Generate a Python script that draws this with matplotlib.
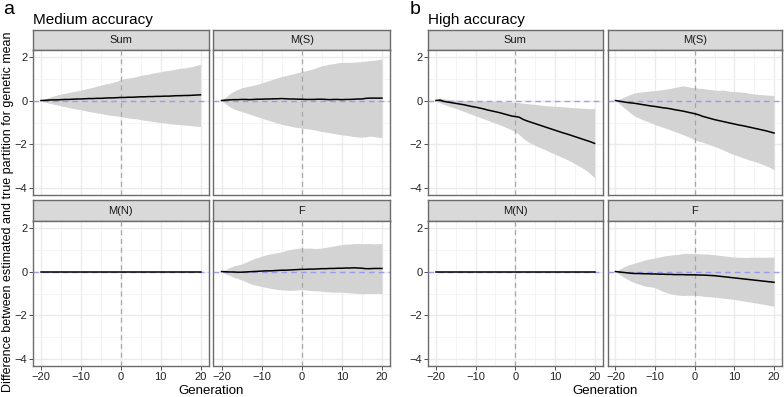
import matplotlib
matplotlib.use("Agg")
import matplotlib.pyplot as plt
import numpy as np

generation = list(range(-20, 21))
facets = ["Sum", "M(S)", "M(N)", "F"]

# ---- Medium accuracy ----
med_sum_upper = [0.0, 0.08, 0.14, 0.2, 0.25, 0.3, 0.33, 0.37, 0.4, 0.44, 0.47, 0.52, 0.56, 0.6, 0.66, 0.7, 0.75, 0.78, 0.83, 0.88, 0.95,
                 1.0, 1.03, 1.05, 1.1, 1.14, 1.18, 1.2, 1.25, 1.28, 1.31, 1.35, 1.37, 1.4, 1.44, 1.47, 1.48, 1.52, 1.55, 1.6, 1.65]
med_sum_lower = [0.0, -0.06, -0.12, -0.16, -0.2, -0.25, -0.28, -0.32, -0.36, -0.39, -0.42, -0.46, -0.5, -0.53, -0.56, -0.59, -0.63, -0.66, -0.68, -0.7, -0.73,
                 -0.77, -0.8, -0.82, -0.83, -0.87, -0.9, -0.92, -0.95, -0.98, -1.0, -1.02, -1.05, -1.07, -1.08, -1.1, -1.12, -1.13, -1.15, -1.17, -1.18]
med_sum_mean = [0.0, 0.01, 0.02, 0.03, 0.03, 0.04, 0.05, 0.05, 0.06, 0.07, 0.07, 0.08, 0.09, 0.09, 0.1, 0.1, 0.11, 0.12, 0.12, 0.13, 0.14,
                0.14, 0.15, 0.15, 0.16, 0.17, 0.17, 0.18, 0.18, 0.19, 0.19, 0.2, 0.2, 0.21, 0.22, 0.22, 0.23, 0.23, 0.24, 0.25, 0.26]

med_ms_upper = [0.0, 0.15, 0.3, 0.42, 0.5, 0.58, 0.62, 0.66, 0.7, 0.74, 0.8, 0.86, 0.92, 0.98, 1.04, 1.09, 1.13, 1.18, 1.22, 1.27, 1.32,
                1.35, 1.4, 1.45, 1.52, 1.58, 1.62, 1.66, 1.68, 1.72, 1.73, 1.74, 1.74, 1.75, 1.76, 1.77, 1.8, 1.82, 1.83, 1.86, 1.89]
med_ms_lower = [0.0, -0.15, -0.28, -0.38, -0.45, -0.5, -0.56, -0.62, -0.68, -0.74, -0.8, -0.86, -0.92, -0.97, -1.03, -1.08, -1.12, -1.16, -1.2, -1.23, -1.26,
                -1.28, -1.3, -1.33, -1.37, -1.41, -1.44, -1.47, -1.5, -1.53, -1.56, -1.58, -1.61, -1.64, -1.66, -1.67, -1.65, -1.62, -1.64, -1.67, -1.68]
med_ms_mean = [0.0, 0.02, 0.03, 0.04, 0.04, 0.05, 0.05, 0.04, 0.05, 0.06, 0.06, 0.07, 0.07, 0.08, 0.08, 0.09, 0.08, 0.07, 0.07, 0.06, 0.06,
               0.05, 0.05, 0.05, 0.06, 0.06, 0.05, 0.04, 0.05, 0.05, 0.04, 0.05, 0.05, 0.06, 0.07, 0.07, 0.1, 0.11, 0.11, 0.11, 0.11]

med_mn_upper = [0.0] * 41
med_mn_lower = [0.0] * 41
med_mn_mean = [0.0] * 41

med_f_upper = [0.0, 0.08, 0.18, 0.25, 0.3, 0.34, 0.42, 0.5, 0.58, 0.64, 0.7, 0.75, 0.8, 0.83, 0.86, 0.9, 0.95, 1.0, 1.03, 1.06, 1.07,
               1.06, 1.07, 1.05, 1.05, 1.07, 1.1, 1.13, 1.16, 1.2, 1.22, 1.25, 1.25, 1.27, 1.28, 1.27, 1.27, 1.28, 1.26, 1.27, 1.28]
med_f_lower = [0.0, -0.1, -0.18, -0.26, -0.32, -0.38, -0.46, -0.54, -0.6, -0.64, -0.68, -0.72, -0.76, -0.79, -0.82, -0.83, -0.85, -0.86, -0.85, -0.84, -0.82,
               -0.84, -0.86, -0.88, -0.88, -0.9, -0.92, -0.93, -0.94, -0.94, -0.94, -0.96, -0.97, -0.98, -1.0, -1.01, -1.0, -1.0, -1.0, -0.99, -1.0]
med_f_mean = [0.0, -0.01, -0.02, -0.02, -0.03, -0.03, -0.02, -0.01, 0.0, 0.01, 0.02, 0.03, 0.03, 0.04, 0.05, 0.06, 0.06, 0.07, 0.08, 0.09, 0.1,
              0.1, 0.11, 0.11, 0.12, 0.13, 0.13, 0.14, 0.14, 0.15, 0.15, 0.16, 0.16, 0.17, 0.16, 0.15, 0.13, 0.13, 0.14, 0.14, 0.14]

# ---- High accuracy ----
high_sum_upper = [0.0, 0.12, 0.08, 0.05, 0.03, 0.02, 0.01, 0.0, 0.0, 0.0, 0.0, -0.01, -0.01, -0.02, -0.02, -0.03, -0.04, -0.05, -0.06, -0.07, -0.08,
                  -0.1, -0.12, -0.14, -0.16, -0.18, -0.2, -0.22, -0.24, -0.25, -0.26, -0.27, -0.28, -0.3, -0.31, -0.33, -0.34, -0.35, -0.36, -0.37, -0.36]
high_sum_lower = [0.0, -0.1, -0.18, -0.24, -0.3, -0.36, -0.42, -0.49, -0.56, -0.63, -0.7, -0.76, -0.83, -0.9, -0.97, -1.03, -1.1, -1.17, -1.25, -1.33, -1.42,
                  -1.55, -1.72, -1.85, -1.95, -2.04, -2.12, -2.2, -2.28, -2.36, -2.44, -2.52, -2.6, -2.68, -2.77, -2.87, -2.97, -3.08, -3.2, -3.35, -3.52]
high_sum_mean = [0.0, 0.02, -0.04, -0.07, -0.1, -0.13, -0.16, -0.19, -0.23, -0.27, -0.3, -0.34, -0.38, -0.43, -0.47, -0.51, -0.55, -0.6, -0.65, -0.7, -0.73,
                 -0.76, -0.86, -0.93, -0.99, -1.05, -1.11, -1.17, -1.23, -1.29, -1.35, -1.41, -1.47, -1.52, -1.58, -1.64, -1.7, -1.76, -1.82, -1.88, -1.95]

high_ms_upper = [0.0, 0.06, 0.15, 0.22, 0.3, 0.35, 0.38, 0.4, 0.42, 0.44, 0.45, 0.48, 0.5, 0.53, 0.56, 0.6, 0.63, 0.67, 0.64, 0.6, 0.58,
                 0.56, 0.55, 0.52, 0.5, 0.48, 0.46, 0.48, 0.45, 0.42, 0.41, 0.4, 0.38, 0.36, 0.32, 0.3, 0.28, 0.27, 0.25, 0.24, 0.23]
high_ms_lower = [0.0, -0.15, -0.3, -0.45, -0.6, -0.73, -0.8, -0.88, -0.95, -1.02, -1.1, -1.16, -1.22, -1.28, -1.35, -1.41, -1.48, -1.55, -1.62, -1.7, -1.79,
                 -1.85, -1.9, -1.96, -2.03, -2.09, -2.16, -2.24, -2.32, -2.4, -2.47, -2.53, -2.6, -2.66, -2.72, -2.77, -2.83, -2.9, -2.97, -3.05, -3.15]
high_ms_mean = [0.0, -0.03, -0.06, -0.09, -0.11, -0.13, -0.16, -0.19, -0.22, -0.25, -0.27, -0.3, -0.33, -0.35, -0.38, -0.42, -0.45, -0.48, -0.52, -0.56, -0.6,
                -0.65, -0.72, -0.77, -0.82, -0.87, -0.91, -0.95, -0.99, -1.03, -1.07, -1.11, -1.14, -1.18, -1.22, -1.26, -1.3, -1.34, -1.38, -1.43, -1.48]

high_mn_upper = [0.0] * 41
high_mn_lower = [0.0] * 41
high_mn_mean = [0.0] * 41

high_f_upper = [0.0, 0.1, 0.2, 0.28, 0.34, 0.39, 0.45, 0.5, 0.55, 0.58, 0.62, 0.66, 0.7, 0.73, 0.75, 0.77, 0.79, 0.82, 0.83, 0.82, 0.82,
                0.81, 0.8, 0.8, 0.78, 0.77, 0.74, 0.72, 0.7, 0.68, 0.66, 0.65, 0.65, 0.64, 0.65, 0.65, 0.66, 0.65, 0.65, 0.66, 0.65]
high_f_lower = [0.0, -0.12, -0.25, -0.35, -0.45, -0.52, -0.58, -0.64, -0.68, -0.7, -0.74, -0.82, -0.9, -0.97, -1.02, -1.05, -1.08, -1.09, -1.08, -1.08, -1.08,
                -1.1, -1.12, -1.14, -1.15, -1.17, -1.19, -1.21, -1.23, -1.25, -1.27, -1.3, -1.33, -1.36, -1.39, -1.42, -1.45, -1.48, -1.51, -1.55, -1.58]
high_f_mean = [0.0, -0.02, -0.04, -0.06, -0.08, -0.09, -0.09, -0.1, -0.1, -0.11, -0.11, -0.12, -0.12, -0.13, -0.13, -0.14, -0.14, -0.14, -0.15, -0.15, -0.15,
               -0.16, -0.16, -0.17, -0.18, -0.19, -0.21, -0.23, -0.25, -0.27, -0.29, -0.31, -0.33, -0.35, -0.37, -0.39, -0.41, -0.43, -0.45, -0.47, -0.49]

xticks = [-20, -10, 0, 10, 20]
yticks = [-4, -2, 0, 2]

panels = [
    dict(letter="a", title="Medium accuracy",
         data={"Sum": (med_sum_lower, med_sum_upper, med_sum_mean),
               "M(S)": (med_ms_lower, med_ms_upper, med_ms_mean),
               "M(N)": (med_mn_lower, med_mn_upper, med_mn_mean),
               "F": (med_f_lower, med_f_upper, med_f_mean)},
         cols=[(33, 208.5), (213.5, 390)], letter_x=3, title_x=33),
    dict(letter="b", title="High accuracy",
         data={"Sum": (high_sum_lower, high_sum_upper, high_sum_mean),
               "M(S)": (high_ms_lower, high_ms_upper, high_ms_mean),
               "M(N)": (high_mn_lower, high_mn_upper, high_mn_mean),
               "F": (high_f_lower, high_f_upper, high_f_mean)},
         cols=[(428, 602.5), (607.5, 782)], letter_x=410, title_x=428),
]

W, H = 784, 397
fig = plt.figure(figsize=(W / 100, H / 100), dpi=100)
fig.patch.set_facecolor("white")

FONT = "Liberation Sans"
plt.rcParams["font.family"] = [FONT, "DejaVu Sans"]

rows = [((30, 50), (50, 195)), ((200, 221), (221, 366))]
BORDER = "#6b6b6b"


def px_axes(x0, y0, x1, y1):
    return fig.add_axes([x0 / W, 1 - y1 / H, (x1 - x0) / W, (y1 - y0) / H])


for p in panels:
    for i, name in enumerate(facets):
        r, c = divmod(i, 2)
        (sy0, sy1), (py0, py1) = rows[r]
        x0, x1 = p["cols"][c]
        # strip
        sax = px_axes(x0, sy0, x1, sy1)
        sax.set_facecolor("#d9d9d9")
        sax.set_xticks([])
        sax.set_yticks([])
        for s in sax.spines.values():
            s.set_color(BORDER)
            s.set_linewidth(1.0)
        sax.text(0.5, 0.5, name, ha="center", va="center", fontsize=8,
                 color="#1a1a1a", transform=sax.transAxes)
        # plot
        ax = px_axes(x0, py0, x1, py1)
        lo, up, mn = p["data"][name]
        ax.set_xlim(-22, 22)
        ax.set_ylim(-4.3, 2.3)
        ax.set_xticks(xticks)
        ax.set_yticks(yticks)
        ax.set_xticks([-15, -5, 5, 15], minor=True)
        ax.set_yticks([-3, -1, 1], minor=True)
        ax.grid(which="major", color="#ebebeb", linewidth=1.0)
        ax.grid(which="minor", color="#f2f2f2", linewidth=0.6)
        ax.set_axisbelow(True)
        ax.fill_between(generation, lo, up, color="#d3d3d3", linewidth=0, zorder=2)
        ax.axhline(0, color="#8c8cf0", linestyle=(0, (4, 3)), linewidth=1.0, zorder=3, alpha=0.8)
        ax.axvline(0, color="#a6a6a6", linestyle=(0, (4, 3)), linewidth=0.9, zorder=3)
        ax.plot(generation, mn, color="black", linewidth=1.1, zorder=4)
        for s in ax.spines.values():
            s.set_color(BORDER)
            s.set_linewidth(1.0)
        ax.tick_params(which="minor", length=0)
        ax.tick_params(which="major", length=3, width=0.6, color="#333333",
                       labelsize=8, labelcolor="#222222", pad=1)
        if c == 0:
            ax.set_yticklabels(["\u22124", "\u22122", "0", "2"])
        else:
            ax.tick_params(axis="y", which="major", length=0, labelleft=False)
        if r == 1:
            ax.set_xticklabels(["\u221220", "\u221210", "0", "10", "20"])
        else:
            ax.tick_params(axis="x", which="major", length=0, labelbottom=False)

    fig.text(p["letter_x"] / W, 1 - 9 / H, p["letter"], fontsize=14, ha="left", va="center")
    fig.text(p["title_x"] / W, 1 - 20 / H, p["title"], fontsize=11, ha="left", va="center")
    cx = (p["cols"][0][0] + p["cols"][1][1]) / 2
    fig.text(cx / W, 0.5 / H, "Generation", fontsize=9.5, ha="center", va="bottom")

fig.text(8 / W, 1 - 212 / H, "Difference between estimated and true partition for genetic mean",
         rotation=90, fontsize=9, ha="center", va="center")

fig.savefig("out.png", dpi=100)
